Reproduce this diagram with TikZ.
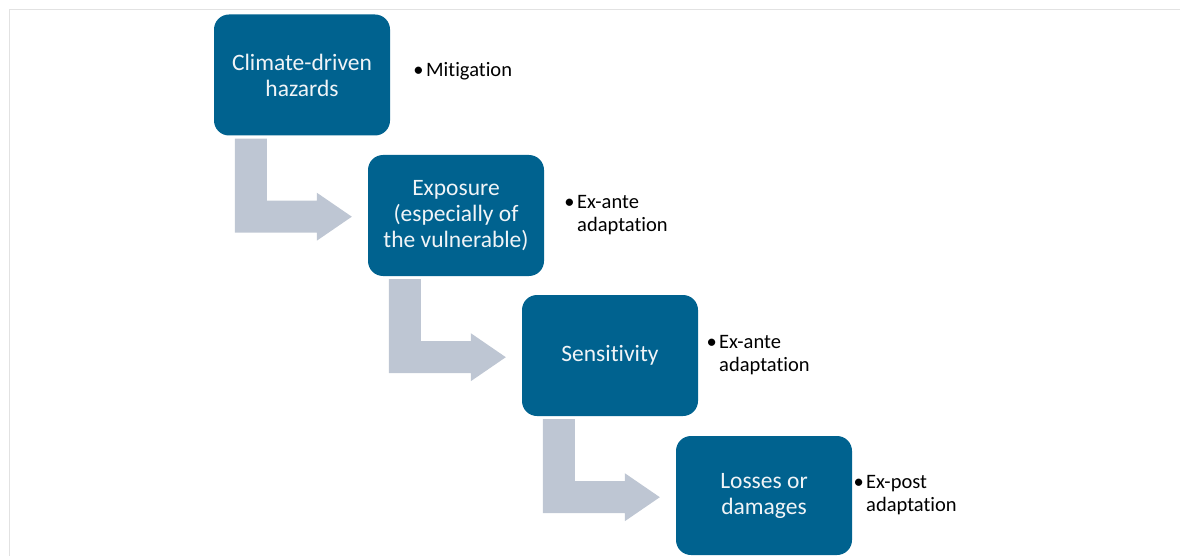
\documentclass[tikz,border=0pt]{standalone}
\usepackage{fontspec}
\setmainfont{Carlito}[Ligatures=NoCommon]
\definecolor{boxblue}{RGB}{0,98,143}
\definecolor{arrowgray}{RGB}{190,198,211}
\definecolor{framegray}{RGB}{226,226,226}
\definecolor{boxtext}{RGB}{240,244,247}
\newcommand\bentarrow[1]{%
  \begin{scope}[shift={(#1.south west)}]
    \fill[arrowgray] (21,3) -- (53,3) -- (53,65) -- (103,65) -- (103,57) -- (138,81)
      -- (103,105) -- (103,97) -- (21,97) -- cycle;
  \end{scope}}
\newcommand\bul[1]{\parbox[t]{160pt}{\raggedright\leavevmode\llap{\textbullet\hspace{2.5pt}}#1}}
\begin{document}
\begin{tikzpicture}[x=1pt,y=-1pt,
  stagebox/.style={rectangle, rounded corners=15pt, fill=boxblue, draw=none,
    minimum width=176pt, minimum height=121pt, text=boxtext, align=center, inner sep=0pt,
    font=\fontsize{23.5}{26}\selectfont},
  note/.style={anchor=base west, inner sep=0pt, text=black,
    font=\fontsize{20.5}{23.5}\selectfont}]
\useasboundingbox (0,0) rectangle (1180,556);
\draw[framegray, line width=1.5pt] (9.5,556) -- (9.5,9.5) -- (1180,9.5);

\node[stagebox] (b1) at (302,75) {Climate-driven\\hazards};
\node[stagebox] (b2) at (456,215.5) {Exposure\\(especially of\\the vulnerable)};
\node[stagebox] (b3) at (610,355.5) {Sensitivity};
\node[stagebox, minimum height=119pt] (b4) at (764,495.5) {Losses or\\damages};

\bentarrow{b1}
\bentarrow{b2}
\bentarrow{b3}

\node[note] (n1) at (426,77) {\bul{Mitigation}};
\node[note] (n2) at (577,208) {\bul{Ex-ante\\adaptation}};
\node[note] (n3) at (719,348) {\bul{Ex-ante\\adaptation}};
\node[note] (n4) at (866,488) {\bul{Ex-post\\adaptation}};
\end{tikzpicture}
\end{document}
